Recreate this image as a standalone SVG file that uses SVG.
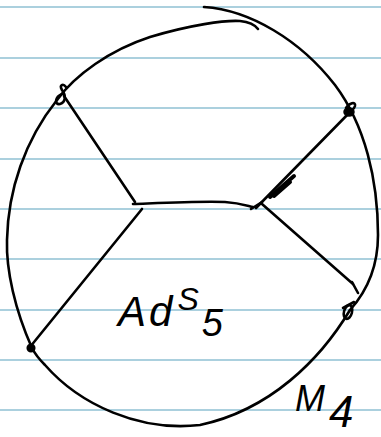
<svg xmlns="http://www.w3.org/2000/svg" width="381" height="437" viewBox="0 0 381 437">
<style>
.rule{stroke:#8fc1d3;stroke-width:1.5}
.ink{fill:none;stroke:#000;stroke-width:2.6;stroke-linecap:round;stroke-linejoin:round}
.dot{fill:#000;stroke:#000;stroke-width:1.5}
.hand{font-family:"Liberation Sans",Arial,sans-serif;font-style:italic;fill:#000}
</style>
<rect width="381" height="437" fill="#fff"/>
<g id="paper">
<line class="rule" x1="0" y1="7" x2="381" y2="7"/>
<line class="rule" x1="0" y1="58" x2="381" y2="58"/>
<line class="rule" x1="0" y1="108" x2="381" y2="108"/>
<line class="rule" x1="0" y1="159" x2="381" y2="159"/>
<line class="rule" x1="0" y1="209" x2="381" y2="209"/>
<line class="rule" x1="0" y1="259" x2="381" y2="259"/>
<line class="rule" x1="0" y1="310" x2="381" y2="310"/>
<line class="rule" x1="0" y1="360" x2="381" y2="360"/>
<line class="rule" x1="0" y1="410" x2="381" y2="410"/>
</g>
<g id="boundary">
<path class="ink" d="M57,100 C75,75 110,50 150,37 C190,25 225,20 240,21 C250,22 255,25 258,29"/>
<path class="ink" d="M204,7 C250,10 300,40 335,85 C365,125 378,180 378,235 C378,265 368,290 350,310"/>
<path class="ink" d="M350,310 C320,360 270,410 200,425 C140,432 80,405 45,365 C38,358 34,352 32,348"/>
<path class="ink" d="M32,348 C15,310 6,270 7,240 C8,190 25,140 57,100"/>
</g>
<g id="connectors">
<path class="ink" d="M64,96 L135,202"/>
<path class="ink" d="M133,204 C160,203 200,201 225,202 C240,203 248,206 253,207"/>
<path class="ink" d="M142,209 L30,347"/>
<path class="ink" d="M256,208 L352,110"/>
<path class="ink" d="M262,204 L353,284"/>
<path class="ink" d="M251,209 L262,202"/>
<path class="ink" style="stroke-width:4" d="M270,197 L294,176 M274,196 L290,182"/>
<path class="ink" d="M352,282 L358,293"/>
</g>
<g id="node-a">
<path class="ink" d="M66,87 C63,83 59,85 62,90 C66,95 66,102 60,104 C54,105 55,97 62,94"/>
</g>
<g id="node-b">
<ellipse class="dot" cx="349" cy="112" rx="5" ry="4"/>
<path class="ink" d="M346,108 C349,103 356,101 355,106 C354,110 350,111 348,110"/>
</g>
<g id="node-c">
<circle class="dot" cx="31" cy="348" r="3.8"/>
</g>
<g id="node-d">
<ellipse class="ink" cx="348" cy="312" rx="4" ry="7" transform="rotate(15 348 312)"/>
<path class="ink" d="M343,308 L354,302"/>
</g>
<g id="labels">
<text class="hand" x="118" y="326" font-size="42" letter-spacing="3">Ad<tspan font-size="32" dx="2" dy="-16">S</tspan><tspan font-size="38" dy="26">5</tspan></text>
<text class="hand" x="295" y="411" font-size="36">M<tspan font-size="44" dx="4" dy="16">4</tspan></text>
</g>
</svg>
